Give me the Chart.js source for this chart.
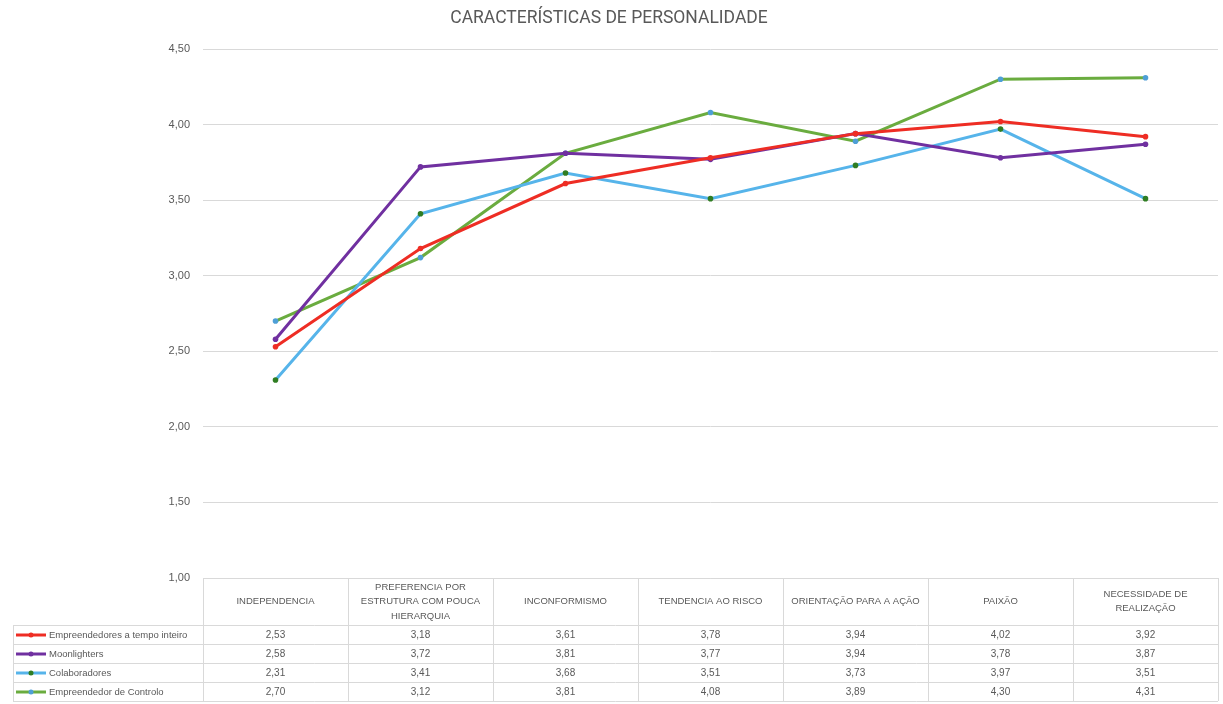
<!DOCTYPE html>
<html>
<head>
<meta charset="utf-8">
<script src="https://cdn.jsdelivr.net/npm/chart.js@4.4.1/dist/chart.umd.min.js"></script>
<style>
html,body{margin:0;padding:0;background:#fff;}
#wrap{width:1223px;height:704px;position:relative;}
</style>
</head>
<body>
<div id="wrap"><canvas id="c" width="1223" height="704"></canvas></div>
<script>
const title = "CARACTERÍSTICAS DE PERSONALIDADE";
const categories = [
  ["INDEPENDENCIA"],
  ["PREFERENCIA POR", "ESTRUTURA COM POUCA", "HIERARQUIA"],
  ["INCONFORMISMO"],
  ["TENDENCIA AO RISCO"],
  ["ORIENTAÇÃO PARA A AÇÃO"],
  ["PAIXÃO"],
  ["NECESSIDADE DE", "REALIZAÇÃO"]
];
const seriesNames = ["Empreendedores a tempo inteiro", "Moonlighters", "Colaboradores", "Empreendedor de Controlo"];
const empreendedores = [2.53, 3.18, 3.61, 3.78, 3.94, 4.02, 3.92];
const moonlighters   = [2.58, 3.72, 3.81, 3.77, 3.94, 3.78, 3.87];
const colaboradores  = [2.31, 3.41, 3.68, 3.51, 3.73, 3.97, 3.51];
const controlo       = [2.70, 3.12, 3.81, 4.08, 3.89, 4.30, 4.31];
const yTicks = [1.00, 1.50, 2.00, 2.50, 3.00, 3.50, 4.00, 4.50];

const lineColors   = ["#ee2d24", "#7030a0", "#56b4ea", "#6aac3f"];
const markerColors = ["#ee2d24", "#7030a0", "#2f7d22", "#4e9fd6"];
const seriesData = [empreendedores, moonlighters, colaboradores, controlo];

const fmt = v => v.toFixed(2).replace('.', ',');
const TXT = "#595959";
const GRID = "#d9d9d9";

const tablePlugin = {
  id: 'dataTable',
  afterDraw(chart) {
    const ctx = chart.ctx;
    const ca = chart.chartArea;
    const xs = chart.scales.x;
    const n = categories.length;
    const colW = ca.width / n;
    const top = ca.bottom;
    const headerBottom = top + 47;
    const rowH = 19;
    const legendLeft = 13;
    const bottom = headerBottom + rowH * seriesNames.length;
    ctx.save();
    ctx.strokeStyle = GRID;
    ctx.lineWidth = 1;
    ctx.beginPath();
    ctx.moveTo(ca.left, top + 0.5); ctx.lineTo(ca.right, top + 0.5);
    for (let r = 0; r <= seriesNames.length; r++) {
      const y = Math.round(headerBottom + r * rowH) + 0.5;
      ctx.moveTo(legendLeft, y); ctx.lineTo(ca.right, y);
    }
    ctx.moveTo(legendLeft + 0.5, headerBottom); ctx.lineTo(legendLeft + 0.5, bottom);
    for (let i = 0; i <= n; i++) {
      const x = Math.round(ca.left + i * colW) + 0.5;
      ctx.moveTo(x, top); ctx.lineTo(x, bottom);
    }
    ctx.stroke();

    ctx.fillStyle = TXT;
    ctx.font = "9.5px 'Liberation Sans', Arial, sans-serif";
    ctx.textAlign = 'center';
    ctx.textBaseline = 'middle';
    const hMid = (top + headerBottom) / 2;
    const lh = 14.5;
    categories.forEach((lines, i) => {
      const cx = xs.getPixelForValue(i);
      const y0 = hMid - (lines.length - 1) * lh / 2;
      lines.forEach((t, k) => ctx.fillText(t, cx, y0 + k * lh));
    });

    seriesData.forEach((arr, r) => {
      const cy = headerBottom + r * rowH + rowH / 2 + 0.5;
      ctx.textAlign = 'center';
      ctx.font = "10px 'Liberation Sans', Arial, sans-serif";
      ctx.fillStyle = TXT;
      arr.forEach((v, i) => {
        ctx.fillText(fmt(v), xs.getPixelForValue(i), cy);
      });
      ctx.strokeStyle = lineColors[r];
      ctx.lineWidth = 3;
      ctx.beginPath();
      ctx.moveTo(16, cy); ctx.lineTo(46, cy);
      ctx.stroke();
      ctx.fillStyle = markerColors[r];
      ctx.beginPath();
      ctx.arc(31, cy, 2.5, 0, Math.PI * 2);
      ctx.fill();
      ctx.fillStyle = TXT;
      ctx.textAlign = 'left';
      ctx.font = "9.5px 'Liberation Sans', Arial, sans-serif";
      ctx.fillText(seriesNames[r], 49, cy);
    });
    ctx.restore();
  }
};

new Chart(document.getElementById('c'), {
  type: 'line',
  data: {
    labels: categories.map(c => c.join(' ')),
    datasets: seriesData.map((d, i) => ({
      label: seriesNames[i],
      data: d,
      borderColor: lineColors[i],
      backgroundColor: markerColors[i],
      pointBackgroundColor: markerColors[i],
      pointBorderColor: markerColors[i],
      borderWidth: 3,
      pointRadius: 2.8,
      pointBorderWidth: 0,
      tension: 0,
      fill: false
    }))
  },
  options: {
    responsive: false,
    animation: false,
    layout: { padding: { left: 0, right: 5, top: 0, bottom: 126 } },
    plugins: {
      legend: { display: false },
      tooltip: { enabled: false },
      title: {
        display: true,
        text: title,
        color: TXT,
        font: { family: "Roboto, 'Liberation Sans', sans-serif", size: 17.5, weight: 'normal', lineHeight: 1.2 },
        padding: { top: 8, bottom: 20 }
      }
    },
    scales: {
      x: {
        type: 'category',
        offset: true,
        display: false,
        grid: { display: false }
      },
      y: {
        min: 1,
        max: 4.5,
        afterFit(scale) { scale.width = 203; },
        afterBuildTicks(scale) { scale.ticks = yTicks.map(v => ({ value: v })); },
        border: { display: false },
        grid: { color: GRID, drawTicks: false, lineWidth: 1 },
        ticks: {
          color: TXT,
          padding: 13,
          font: { family: "'Liberation Sans', Arial, sans-serif", size: 11 },
          callback: v => fmt(v)
        }
      }
    }
  },
  plugins: [tablePlugin]
});
</script>
</body>
</html>
